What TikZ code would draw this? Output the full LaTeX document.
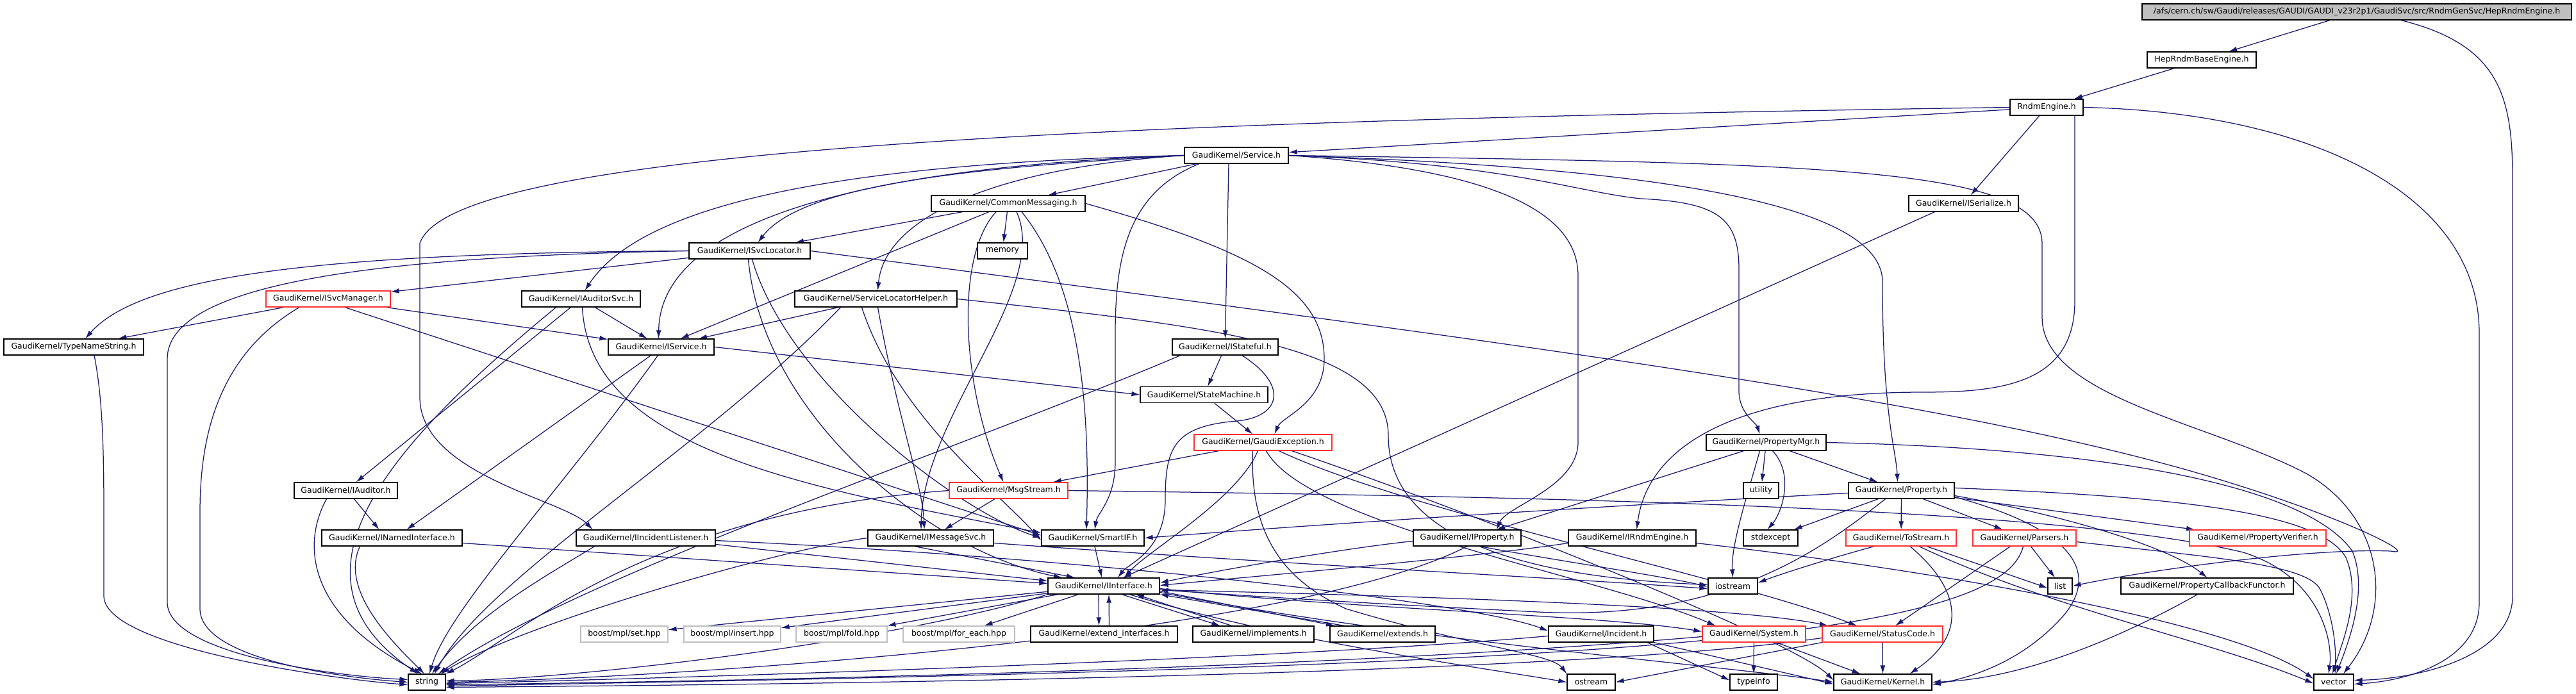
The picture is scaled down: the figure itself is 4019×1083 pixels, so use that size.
\documentclass[tikz,border=0pt]{standalone}
\usepackage{fontspec}
\usepackage{tikz}
\usetikzlibrary{arrows.meta}
\setmainfont{DejaVu Sans}
\definecolor{edgeblue}{HTML}{191970}
\definecolor{truncred}{HTML}{FF3030}
\definecolor{extgray}{HTML}{BFBFBF}
\colorlet{rootgray}{extgray}
\newcommand{\filefont}{\fontsize{12.5}{14}\selectfont}
\pgfdeclarelayer{edges}
\pgfsetlayers{edges,main}
\tikzstyle{filebox} = [
    draw=black,
    fill=white,
    line width=1.2pt,
    rectangle,
    inner sep=0pt,
    minimum height=25pt,
    font=\filefont
    ]
\tikzstyle{truncbox} = [filebox, draw=truncred]
\tikzstyle{extbox} = [filebox, draw=extgray]
\tikzstyle{rootbox} = [filebox, fill=rootgray]
\tikzstyle{dep} = [
    draw=edgeblue,
    line width=1.25pt,
    -{Latex[length=13pt,width=8pt]}
    ]

\begin{document}
\begin{tikzpicture}[x=1pt,y=-1pt]
\useasboundingbox (0,0) rectangle (4019,1083);

% files
\node[rootbox, minimum width=670pt] (hre) at (3677,18.5) {/afs/cern.ch/sw/Gaudi/releases/GAUDI/GAUDI\_v23r2p1/GaudiSvc/src/RndmGenSvc/HepRndmEngine.h};
\node[filebox, minimum width=170pt] (hrbe) at (3435,93.5) {HepRndmBaseEngine.h};
\node[filebox, minimum width=114pt] (re) at (3193,167.5) {RndmEngine.h};
\node[filebox, minimum width=162pt] (svc) at (1929,242.5) {GaudiKernel/Service.h};
\node[filebox, minimum width=240pt] (cm) at (1573,317.5) {GaudiKernel/CommonMessaging.h};
\node[filebox, minimum width=171pt] (ser) at (3063.5,317.5) {GaudiKernel/ISerialize.h};
\node[filebox, minimum width=189pt] (isl) at (1169.5,391.5) {GaudiKernel/ISvcLocator.h};
\node[filebox, minimum width=78pt] (mem) at (1564,391.5) {memory};
\node[filebox, minimum width=253pt] (slh) at (1366.5,466.5) {GaudiKernel/ServiceLocatorHelper.h};
\node[truncbox, minimum width=194pt] (ism) at (512,466.5) {GaudiKernel/ISvcManager.h};
\node[filebox, minimum width=185pt] (ias) at (906.5,466.5) {GaudiKernel/IAuditorSvc.h};
\node[filebox, minimum width=218pt] (tns) at (115,541.5) {GaudiKernel/TypeNameString.h};
\node[filebox, minimum width=165pt] (isv) at (1031.5,541.5) {GaudiKernel/IService.h};
\node[filebox, minimum width=165pt] (ist) at (1911.5,541.5) {GaudiKernel/IStateful.h};
\node[filebox, minimum width=199pt] (sm) at (1878.5,616) {GaudiKernel/StateMachine.h};
\node[truncbox, minimum width=215pt] (ge) at (1970.5,690.5) {GaudiKernel/GaudiException.h};
\node[filebox, minimum width=187pt] (pm) at (2755.5,690.5) {GaudiKernel/PropertyMgr.h};
\node[filebox, minimum width=161pt] (ia) at (539.5,765.5) {GaudiKernel/IAuditor.h};
\node[truncbox, minimum width=185pt] (ms) at (1573.5,765.5) {GaudiKernel/MsgStream.h};
\node[filebox, minimum width=55pt] (util) at (2747.5,765.5) {utility};
\node[filebox, minimum width=165pt] (prop) at (2966.5,765.5) {GaudiKernel/Property.h};
\node[filebox, minimum width=219pt] (ini) at (611.5,839.5) {GaudiKernel/INamedInterface.h};
\node[filebox, minimum width=217pt] (iil) at (1007.5,839.5) {GaudiKernel/IIncidentListener.h};
\node[filebox, minimum width=196pt] (ims) at (1452,839.5) {GaudiKernel/IMessageSvc.h};
\node[filebox, minimum width=160pt] (sif) at (1705,839.5) {GaudiKernel/SmartIF.h};
\node[filebox, minimum width=168pt] (ipr) at (2289,839.5) {GaudiKernel/IProperty.h};
\node[filebox, minimum width=199pt] (ire) at (2546.5,839.5) {GaudiKernel/IRndmEngine.h};
\node[filebox, minimum width=85pt] (stdx) at (2762.5,839.5) {stdexcept};
\node[truncbox, minimum width=172pt] (tos) at (2966,839.5) {GaudiKernel/ToStream.h};
\node[truncbox, minimum width=161pt] (par) at (3158.5,839.5) {GaudiKernel/Parsers.h};
\node[truncbox, minimum width=213pt] (pv) at (3522.5,839.5) {GaudiKernel/PropertyVerifier.h};
\node[filebox, minimum width=174pt] (ii) at (1722,914.5) {GaudiKernel/IInterface.h};
\node[filebox, minimum width=77pt] (ios) at (2703.5,914.5) {iostream};
\node[filebox, minimum width=38pt] (lst) at (3214,914.5) {list};
\node[filebox, minimum width=269pt] (pcf) at (3443.5,914.5) {GaudiKernel/PropertyCallbackFunctor.h};
\node[extbox, minimum width=136pt] (bset) at (974,989.5) {boost/mpl/set.hpp};
\node[extbox, minimum width=151pt] (bins) at (1142.5,989.5) {boost/mpl/insert.hpp};
\node[extbox, minimum width=142pt] (bfold) at (1313,989.5) {boost/mpl/fold.hpp};
\node[extbox, minimum width=174pt] (bfe) at (1496,989.5) {boost/mpl/for\_each.hpp};
\node[filebox, minimum width=229pt] (ext) at (1722.5,989.5) {GaudiKernel/extend\_interfaces.h};
\node[filebox, minimum width=189pt] (imp) at (1955.5,989.5) {GaudiKernel/implements.h};
\node[filebox, minimum width=164pt] (exs) at (2157,989.5) {GaudiKernel/extends.h};
\node[filebox, minimum width=164pt] (inc) at (2498,989.5) {GaudiKernel/Incident.h};
\node[truncbox, minimum width=161pt] (sys) at (2736.5,989.5) {GaudiKernel/System.h};
\node[truncbox, minimum width=188pt] (sc) at (2937,989.5) {GaudiKernel/StatusCode.h};
\node[filebox, minimum width=58pt] (str) at (666,1064.5) {string};
\node[filebox, minimum width=75pt] (ost) at (2482.5,1064.5) {ostream};
\node[filebox, minimum width=74pt] (ti) at (2736,1064.5) {typeinfo};
\node[filebox, minimum width=153pt] (ker) at (2937.5,1064.5) {GaudiKernel/Kernel.h};
\node[filebox, minimum width=62pt] (vec) at (3641,1064.5) {vector};

% includes, drawn under the boxes
\begin{pgfonlayer}{edges}
\fill[white] (0,0) rectangle (4019,1083);
\draw[dep] (hre) -- (hrbe);
\draw[dep] ([xshift=69pt]hre.south) .. controls (3900,70) and (3920,150) .. (3920,280) -- (3920,930) .. controls (3920,1030) and (3760,1060) .. ([yshift=3pt]vec.east);
\draw[dep] (hrbe) -- (re);
\draw[dep] (re) -- (svc);
\draw[dep] (re.west) .. controls (1600,190) and (700,240) .. (655,380) -- (655,620) .. controls (655,740) and (880,780) .. ([xshift=-83pt]iil.north);
\draw[dep] (re) -- (ser);
\draw[dep] ([xshift=44pt]re.south) -- (3237,470) .. controls (3237,600) and (3120,612) .. (3000,612) .. controls (2700,612) and (2570,700) .. ([xshift=7pt]ire.north);
\draw[dep] (re.east) .. controls (3600,175) and (3868,300) .. (3868,520) -- (3868,940) .. controls (3868,1030) and (3760,1062) .. ([yshift=-3pt]vec.east);

\draw[dep] (svc) -- (cm);
\draw[dep] (svc.west) .. controls (1500,262) and (1250,290) .. ([xshift=13pt]isl.north);
\draw[dep] (svc.west) .. controls (1300,255) and (1000,320) .. ([xshift=6pt]ias.north);
\draw[dep] (svc.west) .. controls (1400,258) and (1030,330) .. ([xshift=-4pt]isv.north);
\draw[dep] (svc.west) .. controls (1550,262) and (1380,340) .. ([xshift=3pt]slh.north);
\draw[dep] ([xshift=-58pt]svc.south) .. controls (1760,300) and (1740,400) .. (1740,520) -- (1740,720) .. controls (1740,780) and (1712,800) .. ([xshift=3pt]sif.north);
\draw[dep] ([xshift=-12pt]svc.south) -- (ist.north);
\draw[dep] (svc.east) .. controls (2300,262) and (2462,320) .. (2462,430) -- (2462,690) .. controls (2462,760) and (2350,790) .. ([xshift=46pt]ipr.north);
\draw[dep] (svc.east) .. controls (2350,255) and (2460,300) .. (2560,310) .. controls (2680,316) and (2713,340) .. (2713,420) -- (2713,610) .. controls (2713,645) and (2740,660) .. ([xshift=-10pt]pm.north);
\draw[dep] (svc.east) .. controls (2600,262) and (2937,320) .. (2937,440) .. controls (2937,650) and (2958,700) .. ([xshift=-6pt]prop.north);
\draw[dep] (svc.east) .. controls (2850,255) and (3186,260) .. (3186,380) -- (3186,495) .. controls (3186,620) and (3450,660) .. (3600,740) .. controls (3720,810) and (3735,950) .. ([xshift=15pt]vec.north);

\draw[dep] (cm) -- (isl);
\draw[dep] (cm) -- (mem);
\draw[dep] ([xshift=-30pt]cm.south) -- ([xshift=30pt]isv.north);
\draw[dep] ([xshift=-19pt]cm.south) .. controls (1490,400) and (1500,600) .. ([xshift=-8pt]ms.north);
\draw[dep] ([xshift=13pt]cm.south) .. controls (1640,450) and (1440,650) .. ([xshift=-15pt]ims.north);
\draw[dep] ([xshift=21pt]cm.south) .. controls (1690,450) and (1700,650) .. ([xshift=-10pt]sif.north);
\draw[dep] (cm.east) .. controls (1950,390) and (2066,450) .. (2066,560) .. controls (2066,630) and (2000,650) .. ([xshift=18pt]ge.north);

\draw[dep] (isl) -- (ism);
\draw[dep] (isl.west) .. controls (500,395) and (220,430) .. ([xshift=18pt]tns.north);
\draw[dep] (isl.west) .. controls (600,400) and (261,440) .. (261,560) -- (261,940) .. controls (261,1020) and (520,1055) .. ([yshift=4pt]str.west);
\draw[dep] ([xshift=-2pt]isl.south) .. controls (1190,650) and (1450,860) .. ([xshift=-65pt]ii.north);
\draw[dep] ([xshift=4pt]isl.south) .. controls (1230,600) and (1500,800) .. (sif.west);
\draw[dep] (isl.east) .. controls (2400,540) and (3000,620) .. (3400,730) .. controls (3650,800) and (3780,870) .. (3730,860) .. controls (3600,855) and (3350,890) .. (lst.east);

\draw[dep] (slh) -- (isv);
\draw[dep] ([xshift=-55pt]slh.south) .. controls (1100,700) and (760,900) .. ([xshift=12pt]str.north);
\draw[dep] ([xshift=-22pt]slh.south) .. controls (1400,650) and (1560,770) .. ([yshift=-4pt]sif.west);
\draw[dep] ([xshift=3pt]slh.south) .. controls (1400,650) and (1440,760) .. ([xshift=-10pt]ims.north);
\draw[dep] (slh.east) .. controls (1900,510) and (2166,540) .. (2166,680) .. controls (2166,880) and (2500,905) .. ([yshift=2pt]ios.west);

\draw[dep] (ism) -- (tns);
\draw[dep] (ism) -- (isv);
\draw[dep] ([xshift=-45pt]ism.south) .. controls (330,560) and (312,700) .. (312,800) -- (312,950) .. controls (312,1030) and (540,1058) .. (str.west);
\draw[dep] ([xshift=26pt]ism.south) -- ([yshift=4pt]sif.west);

\draw[dep] (ias) -- (isv);
\draw[dep] (ias) -- (ia);
\draw[dep] ([xshift=-39pt]ias.south) .. controls (600,700) and (430,900) .. ([xshift=-14pt]str.north);
\draw[dep] ([xshift=2pt]ias.south) .. controls (920,700) and (1250,760) .. ([yshift=8pt]sif.west);

\draw[dep] ([xshift=13pt]ia.south) -- ([xshift=-20pt]ini.north);
\draw[dep] ([xshift=-30pt]ia.south) .. controls (470,850) and (480,960) .. ([xshift=-8pt]str.north);

\draw[dep] ([xshift=-16pt]isv.south) -- ([xshift=23pt]ini.north);
\draw[dep] (isv.east) -- (sm.west);
\draw[dep] ([xshift=-5pt]isv.south) .. controls (880,760) and (700,950) .. ([xshift=4pt]str.north);

\draw[dep] ([xshift=32pt]tns.south) .. controls (160,620) and (162,700) .. (162,800) -- (162,930) .. controls (162,1010) and (520,1060) .. ([yshift=-4pt]str.west);

\draw[dep] (ist) -- (sm);
\draw[dep] ([xshift=26pt]ist.south) .. controls (2010,600) and (2000,650) .. (1930,657) .. controls (1830,665) and (1818,700) .. (1818,780) .. controls (1818,860) and (1760,880) .. ([xshift=22pt]ii.north);
\draw[dep] ([xshift=-70pt]ist.south) .. controls (1500,700) and (900,900) .. ([xshift=18pt]str.north);

\draw[dep] (sm) -- (ge);

\draw[dep] (ge) -- (ms);
\draw[dep] ([xshift=-8pt]ge.south) .. controls (1930,780) and (1790,860) .. ([xshift=32pt]ii.north);
\draw[dep] ([xshift=-16pt]ge.south) .. controls (1950,820) and (1990,900) .. (2100,950) .. controls (2300,1010) and (2420,1020) .. (ost.north west);
\draw[dep] ([xshift=5pt]ge.south) .. controls (2040,820) and (2500,900) .. ([xshift=-60pt]sys.north);
\draw[dep] ([xshift=25pt]ge.south) .. controls (2200,800) and (2700,900) .. ([xshift=-40pt]sc.north);
\draw[dep] ([xshift=45pt]ge.south) .. controls (2300,800) and (2800,1000) .. ([yshift=3pt]ker.west);

\draw[dep] (ms) -- (ims);
\draw[dep] (ms.west) .. controls (1000,800) and (800,1000) .. (str.north east);
\draw[dep] (ms.east) .. controls (2400,775) and (3200,790) .. (3500,862) .. controls (3620,900) and (3640,1000) .. ([xshift=-8pt]vec.north);

\draw[dep] ([yshift=-8pt]ini.east) -- ([yshift=4pt]ii.west);
\draw[dep] ([xshift=-50pt]ini.south) .. controls (530,920) and (610,1000) .. ([xshift=-4pt]str.north);

\draw[dep] ([yshift=-4pt]iil.east) .. controls (1700,870) and (2300,940) .. ([yshift=5pt]inc.west);
\draw[dep] ([yshift=-10pt]iil.east) -- ([yshift=8pt]ii.west);
\draw[dep] ([xshift=-80pt]iil.south) .. controls (850,900) and (740,960) .. ([xshift=8pt]str.north);

\draw[dep] ([xshift=-25pt]ims.south) -- ([xshift=-45pt]ii.north);
\draw[dep] (ims.west) .. controls (1200,860) and (800,980) .. ([xshift=22pt]str.north);
\draw[dep] ([yshift=-8pt]ims.east) .. controls (2000,880) and (2400,900) .. ([yshift=-4pt]ios.west);

\draw[dep] (sif) -- (ii);

\draw[dep] ([yshift=-5pt]ipr.west) .. controls (2100,855) and (1900,890) .. ([yshift=5pt]ii.east);
\draw[dep] ([xshift=20pt]ipr.south) .. controls (2400,870) and (2600,900) .. ([yshift=-1pt]ios.west);
\draw[dep] (ipr.south) .. controls (2000,1000) and (1000,1060) .. (str.east);

\draw[dep] ([yshift=-8pt]ire.west) .. controls (2300,870) and (1950,900) .. ([yshift=1pt]ii.east);
\draw[dep] ([yshift=-8pt]ire.east) .. controls (3100,900) and (3500,980) .. ([yshift=5pt]vec.west);

\draw[dep] ([xshift=-35pt]pm.south) -- ([xshift=46pt]ipr.north);
\draw[dep] (pm) -- (util);
\draw[dep] ([xshift=10pt]pm.south) .. controls (2800,740) and (2780,800) .. ([xshift=-5pt]stdx.north);
\draw[dep] (pm) -- (prop);
\draw[dep] ([xshift=-10pt]pm.south) .. controls (2730,760) and (2700,850) .. (ios.north);
\draw[dep] (pm.east) .. controls (3300,700) and (3600,760) .. (3670,860) .. controls (3695,920) and (3665,1000) .. ([xshift=4pt]vec.north);

\draw[dep] (prop) -- (stdx);
\draw[dep] (prop) -- (tos);
\draw[dep] (prop) -- (par);
\draw[dep] (prop) -- (pv);
\draw[dep] ([yshift=-8pt]prop.east) .. controls (3200,800) and (3380,850) .. (pcf.north);
\draw[dep] ([yshift=-4pt]prop.west) .. controls (2500,790) and (2100,815) .. (sif.east);
\draw[dep] ([xshift=-25pt]prop.south) .. controls (2850,850) and (2700,970) .. (2400,955) .. controls (2100,940) and (1950,930) .. ([yshift=-6pt]ii.east);
\draw[dep] ([yshift=4pt]prop.east) .. controls (3400,775) and (3620,800) .. (3660,870) .. controls (3685,930) and (3655,1000) .. ([xshift=-2pt]vec.north);
\draw[dep] ([yshift=-10pt]prop.east) .. controls (3250,830) and (3270,900) .. (3220,960) .. controls (3150,1040) and (3060,1060) .. ([yshift=-4pt]ker.east);

\draw[dep] ([xshift=-42pt]tos.south) .. controls (2860,870) and (2780,895) .. ([yshift=5pt]ios.east);
\draw[dep] ([xshift=14pt]tos.south) .. controls (3060,920) and (3070,990) .. ([xshift=42pt]ker.north);
\draw[dep] ([xshift=28pt]tos.south) .. controls (3200,950) and (3450,1000) .. ([yshift=-2pt]vec.west);
\draw[dep] ([xshift=40pt]tos.south) -- ([yshift=-3pt]lst.west);

\draw[dep] ([xshift=-22pt]par.south) -- ([xshift=20pt]sc.north);
\draw[dep] ([xshift=10pt]par.south) -- ([xshift=-8pt]lst.north);
\draw[dep] ([yshift=-6pt]par.east) .. controls (3450,870) and (3600,880) .. (3620,920) .. controls (3640,960) and (3645,1010) .. ([xshift=2pt]vec.north);
\draw[dep] ([xshift=-2pt]par.south) .. controls (3120,1000) and (2500,1040) .. ([yshift=-6pt]str.east);

\draw[dep] ([xshift=-15pt]pcf.south) .. controls (3300,1000) and (3150,1060) .. (ker.east);

\draw[dep] ([xshift=-45pt]ser.south) -- ([xshift=30pt]ii.north);

\draw[dep] (ii) -- (bset);
\draw[dep] (ii) -- (bins);
\draw[dep] (ii) -- (bfold);
\draw[dep] (ii) -- (bfe);
\draw[dep] ([xshift=-8pt]ii.south) -- ([xshift=-8pt]ext.north);
\draw[dep] ([xshift=8pt]ext.north) -- ([xshift=8pt]ii.south);
\draw[dep] ([xshift=28pt]ii.south) -- ([xshift=-52pt]imp.north);
\draw[dep] ([xshift=-34pt]imp.north) -- ([xshift=50pt]ii.south);
\draw[dep] ([yshift=-8pt]ii.east) -- ([xshift=-75pt]exs.north);
\draw[dep] ([xshift=-60pt]exs.north) -- (ii.south east);
\draw[dep] ([yshift=-4pt]ii.east) .. controls (2100,950) and (2500,960) .. ([yshift=4pt]sys.west);
\draw[dep] ([yshift=-6pt]ii.east) .. controls (2200,930) and (2700,945) .. ([xshift=-85pt]sc.north);
\draw[dep] ([yshift=-10pt]ii.east) .. controls (2200,1000) and (2700,1040) .. (ker.west);
\draw[dep] (ii.south west) .. controls (1400,1000) and (900,1060) .. ([yshift=2pt]str.east);
\draw[dep] ([xshift=40pt]ii.south) .. controls (2000,1000) and (2300,1040) .. (ost.west);

\draw[dep] ([yshift=-3pt]inc.west) .. controls (2000,1030) and (1000,1060) .. ([yshift=-2pt]str.east);
\draw[dep] ([xshift=72pt]inc.south) -- ([yshift=3pt]ti.west);
\draw[dep] (inc.south east) -- ([yshift=-3pt]ker.west);

\draw[dep] ([yshift=-4pt]sys.west) .. controls (2000,1050) and (1000,1065) .. ([yshift=-4pt]str.east);
\draw[dep] (sys) -- (ti);
\draw[dep] (sys) -- (ker);

\draw[dep] (sc) -- (ker);
\draw[dep] (sc.south west) -- (ost.east);
\draw[dep] ([yshift=-6pt]sc.west) .. controls (2400,1060) and (1000,1070) .. ([yshift=-8pt]str.east);
\end{pgfonlayer}
\end{tikzpicture}
\end{document}
